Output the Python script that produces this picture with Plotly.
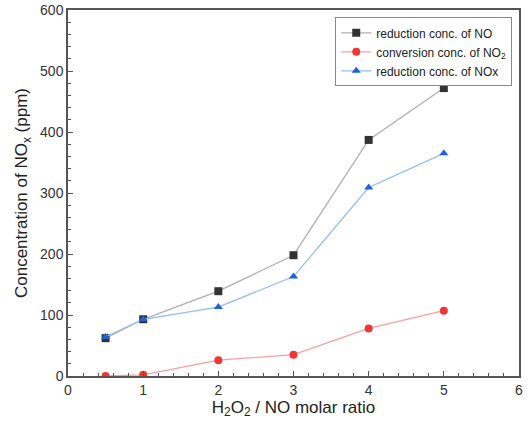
import plotly.graph_objects as go

ratio = [0.5, 1, 2, 3, 4, 5]
no_reduction = [62, 93, 139, 198, 387, 472]
no2_conversion = [0, 2, 26, 35, 78, 107]
nox_reduction = [64, 93, 113, 163, 309, 365]

series = [
    ("reduction conc. of NO", no_reduction, "#333333", "#b0b0b0", "square"),
    ("conversion conc. of NO<sub>2</sub>", no2_conversion, "#f03535", "#f7a0a0", "circle"),
    ("reduction conc. of NOx", nox_reduction, "#1f63d8", "#93bdf2", "triangle-up"),
]

fig = go.Figure()
for name, vals, mc, lc, sym in series:
    fig.add_trace(go.Scatter(
        x=ratio, y=vals, name=name, mode="lines+markers",
        line=dict(color=lc, width=1.3),
        marker=dict(color=mc, symbol=sym, size=8),
    ))

axis_common = dict(
    showline=True, linecolor="#555555", linewidth=1.5, mirror=True,
    ticks="inside", ticklen=5, tickcolor="#555555", tickwidth=1.2,
    showgrid=False, zeroline=False, automargin=False,
    ticklabeloverflow="allow",
    tickfont=dict(family="Arial, Liberation Sans, sans-serif", size=14, color="#333333"),
    minor=dict(ticks="inside", ticklen=3, tickcolor="#555555", tickwidth=1),
)

fig.update_layout(
    width=529, height=431,
    margin=dict(l=68, r=10, t=10, b=55),
    paper_bgcolor="white", plot_bgcolor="white",
    font=dict(family="Arial, Liberation Sans, sans-serif", color="#222222"),
    xaxis=dict(range=[0, 6], dtick=1, **axis_common,
               title=dict(text="H<sub>2</sub>O<sub>2</sub> / NO molar ratio",
                          font=dict(size=17, color="#222222"), standoff=4)),
    yaxis=dict(range=[0, 600], dtick=100, **axis_common,
               title=dict(text="Concentration of NO<sub>x</sub> (ppm)",
                          font=dict(size=17, color="#222222"), standoff=8)),
    legend=dict(x=0.985, y=0.98, xanchor="right", yanchor="top",
                bordercolor="#888888", borderwidth=1, bgcolor="white",
                font=dict(size=12, color="#222222"),
                tracegroupgap=0, itemwidth=30),
    showlegend=True,
    hovermode=False,
)

fig.write_html("out.html", config={"displayModeBar": False},
               post_script="document.body.style.margin='0';")
